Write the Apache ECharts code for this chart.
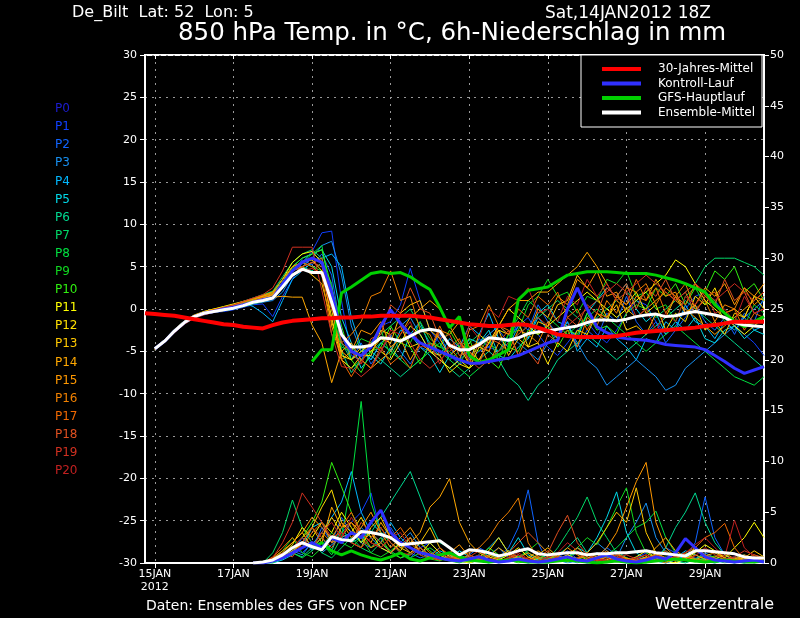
<!DOCTYPE html>
<html>
<head>
<meta charset="utf-8">
<script src="https://cdn.jsdelivr.net/npm/echarts@6/dist/echarts.min.js"></script>
<style>
  html, body { margin: 0; background: #000; }
  #chart { width: 800px; height: 618px; }
</style>
</head>
<body>
<div id="chart"></div>
<script>
// 6-hourly steps, first category = 14JAN 18Z, last = 30JAN 12Z
const dayTicks = ["15JAN", "17JAN", "19JAN", "21JAN", "23JAN", "25JAN", "27JAN", "29JAN"];
const tempTicks = [-30, 30, 5];
const precipTicks = [0, 50, 5];

const memberNames = ["P0", "P1", "P2", "P3", "P4", "P5", "P6", "P7", "P8", "P9", "P10",
  "P11", "P12", "P13", "P14", "P15", "P16", "P17", "P18", "P19", "P20"];
const memberColors = ["#1c1cd0", "#1040ff", "#1064ff", "#1890f0", "#00b8ff", "#00d8e8",
  "#00d890", "#00d868", "#00e040", "#10d820", "#30f010", "#ffff00", "#ffe000", "#ffc800",
  "#ffa800", "#ff9800", "#f08000", "#f06800", "#e05020", "#d03020", "#c02020"];

// 850 hPa temperature of members P1..P20, from 15JAN 00Z
const tempMembers = [
  [-4.8,-3.9,-2.7,-1.7,-1.0,-0.6,-0.4,-0.3,-0.1,0.2,0.5,0.6,-0.9, 1.5,3.5,5.5,6.8,9.0,9.2,1.0, -5.5,-6,-4,-2,-1.5,0.5,4.8,1,-2.5,-4, -5.5,-6.5,-6,-5,-4.5,-5,-3.5,-2,-1,-3, -4.5,-5.5,-4,-2.5,-1.5,-3,-4,-2.5,-0.5,1, 0.5,-1.5,-3,-2,0,1.5,2,1,-0.5,-2, -3,-4,-5.5],
  [-4.6,-3.7,-2.5,-1.5,-0.8,-0.4,-0.2,0,0.3,0.6,1.0,1.3,1.6, 2.8,4.5,5.8,5.2,6.5,4.0,-3.0, -6,-4,-6.5,-5,-3,-5,-6.5,-4.5,-5,-3, -5.5,-4,-6,-3.5,-4.5,-2.5,-4,-1.5,-2.5,0.5, -1.5,-3,-1.5,-4.5,-2.5,-3.5,-0.5,-1.5,1.5,-1.5, -3,-1.5,-4,-2.5,-1,0.5,-1.5,-2.5,-1,-3, -0.5,-1.5,1.5],
  [-4.7,-3.8,-2.7,-1.7,-1.0,-0.6,-0.4,-0.2,0,0.3,0.6,0.8,1.0, 2.0,4.0,5.0,6.0,7.5,8.0,4.0, -2,-5,-6,-4,-3,-2,-1,-3,-5,-6, -7,-6,-5,-4,-3,-2,-3,-4,-5,-6, -4,-3,-2,-4,-6,-7,-9,-8,-7,-6, -7,-8,-9.6,-9,-7,-6,-5,-4,-3,-2, -1,0,1],
  [-4.6,-3.6,-2.4,-1.4,-0.8,-0.4,-0.2,0.1,0.4,0.7,0.3,-0.5,-1.5, 1.0,3.5,4.5,5.5,6.0,6.5,5.0, -1,-4.5,-6,-4,-5,-2.5,-3,-1.5,-4.5,-5.5, -3.5,-4.5,-2,-3,-0.5,-3.5,-4.5,-2,-3.5,-1, -2.5,-3.5,-1.5,-5,-3.5,-4.5,-2,-3.5,-4.5,-6, -3.5,-4,-1.5,-2.5,0.5,-1.5,-2,-3.5,-1.5,-2.5, -1,-2.5,-2],
  [-4.8,-3.9,-2.7,-1.7,-1.0,-0.6,-0.3,-0.1,0.2,0.5,0.9,1.2,1.8, 3.5,5.0,6.0,6.5,7.0,5.0,-1.0, -4,-7,-5.5,-6.5,-4.5,-6,-3,-4.5,-5.5,-7.5, -5.5,-6,-3.5,-4,-2.5,-5.5,-6,-4.5,-3.5,-0.5, 0.5,-1.5,-2,-3.5,-0.5,1,2.5,1.5,3,0, -1.5,-0.5,-3,-1.5,-2.5,-1,-3.5,-4,-2.5,-2, -3.5,-2.5,-3],
  [-4.7,-3.8,-2.6,-1.6,-0.9,-0.5,-0.3,-0.1,0.1,0.4,0.7,1.0,1.3, 2.5,4.0,5.0,4.5,5.5,3.0,-5.0, -7.5,-6,-5,-6,-7,-8,-7,-6,-5,-6, -7,-8,-7,-6,-5,-6,-8,-9,-10.8,-9, -8,-6,-5,-4,-3,-4,-5,-6,-5,-4, -3,-2,-1,0,1,0,-1,-2,-3,-4, -5,-6,-7],
  [-4.6,-3.7,-2.5,-1.5,-0.8,-0.4,-0.1,0.2,0.5,0.9,1.3,1.7,2.1, 3.8,5.5,6.5,7.0,6.0,2.0,-4.0, -6,-5,-4,-3,-2,-1,0,-2,-4,-5, -6,-5,-4,-3,-4,-5,-4,-3,-2,-1, 0,1,0,-1,-2,-1,0,1,2,1, 0,-1,0,1,2,3,5,6,6,6, 5.5,5,4],
  [-4.8,-3.9,-2.7,-1.7,-1.0,-0.6,-0.4,-0.2,0,0.3,0.6,0.9,1.2, 2.5,4.5,5.5,6.5,7.5,1.0,-6.0, -7,-6,-5,-4,-5,-6,-7,-6,-5,-4, -6,-7,-8,-7,-6,-5,-3,-1,1,0, -1,-2,-3,-2,-1,0,-1,-2,-3,-4, -5,-4,-3,-2,-3,-4,-5,-6,-7,-8, -8.5,-9,-8],
  [-4.7,-3.8,-2.6,-1.6,-0.8,-0.4,-0.2,0,0.2,0.5,0.9,1.1,1.4, 3.0,4.8,5.5,5.0,4.5,0.0,-4.5, -5,-3.5,-4,-2.5,-5.5,-3.5,-4,-1.5,-3.5,-4.5, -5,-6.5,-4.5,-5,-3.5,-6,-3,-2.5,0.5,1.5, 3.5,1.5,2,-0.5,1.5,1,3.5,3,4.5,1.5, 2,0,0.5,-1.5,1.5,2.5,0.5,1,-1.5,-1, -2,0.5,-0.5],
  [-4.6,-3.7,-2.5,-1.5,-0.9,-0.5,-0.3,0,0.3,0.7,1.1,1.5,1.9, 3.5,5.0,6.0,6.5,7.0,2.5,-2.0, -6,-7.5,-5,-4.5,-2,-4,-4.5,-6.5,-4,-4.5, -2.5,-4.5,-3.5,-6.5,-6,-7,-4.5,-5,-2.5,-3, -2,-4.5,-2.5,-3,-0.5,-2.5,-2,-3,-0.5,0.5, 0,2.5,1.5,3,0.5,2.5,2,4.5,3.5,5, 2,3,1],
  [-4.7,-3.7,-2.5,-1.5,-0.8,-0.3,0,0.3,0.6,0.9,1.2,1.6,2.0, 3.5,5.5,6.5,6.8,5.5,0.0,-5.5, -6,-5,-4,-5,-6,-4,-2,-3,-5,-6, -7,-6,-7,-6,-4,-2,0,-1,-2,-3, -2,-1,0,1,2,1,0,-1,0,1, 2,3,4,5.8,5,3,1,0,-1,-2, -3,-2,-1],
  [-4.8,-3.9,-2.7,-1.7,-1.0,-0.5,-0.2,0,0.3,0.6,1.0,1.4,1.7, 3.2,5.0,5.5,5.8,4.5,-1.0,-6.0, -7,-5.5,-5.5,-2.5,-3,-2,-4.5,-4,-5,-5.5, -7.5,-6.5,-7,-4.5,-5,-2.5,-3,-1.5,-4.5,-4, -6.5,-4,-5,-2.5,-3,-0.5,-1.5,1.5,0.5,2, -0.5,0.5,-2.5,-0.5,-1.5,1.5,0.5,2.5,-0.5,0, -1,1.5,0],
  [-4.6,-3.6,-2.4,-1.4,-0.7,-0.3,0,0.2,0.5,0.8,1.2,1.5,1.8, 3.0,4.5,5.0,4.0,3.0,-1.5,-5.0, -6,-4.5,-5,-3.5,-4,-0.5,0.5,1,-2.5,-3.5, -5.5,-4.5,-6.5,-3,-4,-2.5,-5.5,-3.5,-4.5,-1.5, -2,0.5,1,4,2.5,1.5,-1,0.5,-2.5,-2, -3,-0.5,-1,1.5,-0.5,0.5,-2.5,-1.5,-3,-0.5, -1,1.5,1],
  [-4.7,-3.8,-2.6,-1.6,-0.9,-0.5,-0.3,-0.1,0.2,0.5,0.8,1.1,1.4, 1.5,1.4,1.4,-1.9,-4.0,-8.7,-5.0, -4,-6,-7,-6,-5,-3,-1,0,1,0, -2,-4,-5,-6,-4,-2,0,1,1,2, 2,3,4,5,6.7,5,3,1,0,-1, 0,1,2,1,0,-1,-2,-3,-2,-1, 0,1,2],
  [-4.8,-3.9,-2.7,-1.7,-1.0,-0.6,-0.3,0,0.3,0.6,0.9,1.3,1.6, 3.0,4.5,5.5,6.0,5.5,-2.0,-6.0, -5,-2.5,-3,-1.5,-4.5,-3.5,-6,-4,-5,-2.5, -3,-1.5,-4.5,-4,-6.5,-4,-5,-2.5,-3,0, -1,1.5,0.5,3.5,2.5,4.5,1.5,2,-0.5,1.5, 1,3.5,1.5,2,-0.5,0.5,2.5,1.5,3,0.5, 2.5,1.5,3],
  [-4.7,-3.7,-2.5,-1.5,-0.8,-0.4,-0.1,0.1,0.4,0.8,1.2,1.6,2.0, 3.5,5.0,5.5,5.0,4.0,-3.0,-4.0, -3,-1.5,1.5,2,4.5,1,1.5,-2.5,-3,-5.5, -4.5,-6,-2.5,-2,0.5,-2,-2.5,-5.5,-3,-4, -1.5,-3.5,-2.5,-4.5,-1,-2,1,-0.5,2.5,2, 3,0.5,2.5,1.5,3,0,1,-1.5,0.5,0, 2.5,0.5,1.5],
  [-4.6,-3.7,-2.6,-1.6,-0.9,-0.5,-0.2,0,0.3,0.6,1.0,1.4,1.8, 3.0,4.0,5.0,5.5,6.0,0.5,-6.0, -8,-6,-7,-4.5,-6.5,-5.5,-7,-4,-5,-2, -4.5,-3.5,-6.5,-4,-5,-2,-3,0,-1,1.5, 0.5,2,-1,0,-2.5,-0.5,-1,1.5,0.5,3.5, 1,2.5,-0.5,1.5,0.5,3,1.5,2,-0.5,0, -2.5,-0.5,-1],
  [-4.8,-3.9,-2.8,-1.8,-1.1,-0.7,-0.4,-0.2,0.1,0.4,0.8,1.1,1.4, 3.0,4.5,5.0,5.5,5.0,1.5,-4.0, -5,-6.5,-3.5,-3,0.5,-0.5,2.5,0,-0.5,-3.5, -3,-5.5,-5,-6.5,-3.5,-4,-2.5,-5.5,-5,-6.5, -3,-4,-1,-2,0.5,-0.5,2.5,1.5,3,0, 2.5,1.5,3.5,1,2,-0.5,1.5,0.5,3.5,1, 2,-0.5,0],
  [-4.7,-3.8,-2.6,-1.6,-0.9,-0.4,-0.1,0.2,0.5,0.9,1.3,1.7,2.5, 4.5,7.3,7.3,7.3,2.2,-3.0,-6.8, -7,-8,-7,-5,-3,-2,-4,-6,-7,-6, -5,-4,-6,-7,-6,-5,-4,-3,-2,-1, -2,-3,-2,-1,0,1,2,3,2,3, 4,3,2,1,2,3,2,1,2,3, 2,1,2],
  [-4.7,-3.8,-2.7,-1.7,-1.0,-0.6,-0.3,-0.1,0.2,0.5,0.8,1.1,1.3, 2.5,4.0,4.5,4.8,4.0,0.0,-3.0, -5,-6.5,-4,-5,-2.5,-3,-1.5,-4.5,-4,-6.5, -4,-5,-2,-3.5,0,-1,1.5,1,2.5,-0.5, 0,-1.5,1.5,0.5,3.5,1.5,3,1,2,-1, 0,-2.5,-0.5,-1.5,1.5,0.5,2,-0.5,0,-1.5, 1.5,-0.5,0]
];

// 6h precipitation of members P1..P20, from 17JAN 12Z
const precipMembers = [
  [0,0,0.3,0.8,1.5,1.0,2.0,1.5,2.5,3.0, 4.0,5.0,6.9,3.0,2.0,1.0,0.5,1.5,2.0,1.0, 0.5,0.2,0,0.3,1.0,0.5,0.2,0.8,0.3,0, 0,0.5,1.2,0.4,0,0.2,0.6,0.3,0,0.5, 1.0,0.4,0,0.3,0.8,0.5,0.2,0,0.4,0.6, 0.3,0,0.2],
  [0,0,0.2,0.5,1.0,2.5,1.2,3.5,2.0,4.5, 3.0,2.0,1.5,2.5,3.5,2.0,1.0,0.5,0.8,1.5, 0.6,0.2,0.8,1.5,1.0,0.5,1.5,3.5,7.2,2.0, 0,0.4,0.8,0.2,0,0.6,1.5,0.8,0.3,0, 0.2,0.5,1.5,1.0,0.5,2.0,6.5,2.5,0.8,0.2, 0,0.3,0.5],
  [0,0,0,0.4,1.2,0.8,2.0,1.0,1.8,2.5, 2.0,3.5,2.5,1.5,1.0,2.0,3.0,1.5,0.5,0.8, 0.3,0,0.5,0.2,0.8,1.5,0.5,0.2,0,0.4, 0.8,0.3,0,0.2,1.0,2.0,1.2,0.5,2.5,4.0, 5.9,2.5,1.0,0.3,0,0.4,1.0,0.5,0.2,0, 0.3,0.6,0.2],
  [0,0,0.2,0.6,1.5,2.5,1.8,3.0,4.5,6.0, 9.0,5.0,3.0,2.0,4.0,2.5,1.5,1.0,0.5,1.2, 0.8,0.3,0.1,0.5,1.5,2.5,1.0,0.3,0,0.2, 0.5,0.8,0.3,0,0.4,1.0,0.6,0.2,0,0.3, 0.6,0.2,0,0.5,1.2,0.8,0.3,0.1,0.4,0.2, 0,0.3,0.5],
  [0,0,0,0.3,0.8,1.5,3.5,4.0,2.0,2.5, 3.0,2.0,4.0,3.0,2.5,1.5,2.5,1.0,0.6,0.3, 0.5,1.2,0.6,0.2,0,0.4,1.0,2.5,0.8,0.3, 0,0.2,0.5,1.5,1.0,2.5,4.5,7.0,3.0,1.0, 0.4,0.2,0,0.3,0.7,0.4,0.1,0,0.2,0.5, 0.8,0.3,0.2],
  [0,0,0.3,0.5,1.0,0.6,1.5,2.5,1.2,3.5, 2.0,2.5,3.0,4.5,6.0,7.5,9.0,6.5,4.0,2.0, 1.5,0.8,0.4,0.2,0,0.5,1.2,0.6,0.3,0.1, 0.4,0.8,1.5,2.5,1.0,0.3,0.6,1.2,0.5,0.2, 0,0.4,1.5,3.5,5.0,6.9,4.0,2.0,0.8,0.3, 0.1,0.4,0.6],
  [0,0,1.0,3.0,6.2,3.5,2.0,1.0,0.5,1.5, 2.5,1.5,1.0,2.0,1.2,0.5,0.8,1.5,0.6,0.3, 0.5,0.2,0,0.3,0.8,0.4,0.2,0.6,1.0,0.5, 0.3,1.5,3.0,4.5,6.5,4.0,2.5,1.0,0.4,0.2, 0,0.3,0.6,0.2,0,0.4,0.8,0.5,0.2,0, 0.3,0.6,0.4],
  [0,0,0.2,0.4,1.0,0.5,1.2,2.0,0.8,2.5, 8.0,15.9,6.0,3.0,2.0,1.0,0.5,1.0,1.5,0.8, 0.3,0.1,0.4,0.8,0.3,0,0.2,0.5,0.3,0.1, 0,0.3,0.6,1.0,0.4,0.2,0.8,1.5,2.5,3.5, 4.0,5.1,2.5,1.0,0.4,0.2,0.5,0.3,0,0.2, 0.5,0.3,0.1],
  [0,0,0.4,1.2,2.5,1.0,0.6,1.5,3.0,2.0, 1.5,2.5,1.0,0.6,1.2,2.0,1.5,0.8,0.4,0.2, 0.6,0.3,0.1,0.5,1.0,0.4,0.2,0.6,1.2,2.0, 1.0,0.5,0.3,1.5,2.5,1.8,3.5,5.5,7.4,3.0, 1.0,0.5,0.2,0.6,1.0,0.4,0.2,0,0.3,0.5, 0.8,0.4,0.2],
  [0,0,0,0.5,1.5,2.5,4.0,6.0,9.9,7.5, 5.0,3.0,1.5,2.5,1.0,0.5,1.0,2.0,1.2,0.4, 0.2,0,0.3,0.6,1.5,0.8,0.3,0,0.2,0.5, 0.8,0.3,0.1,0.4,0.6,0.2,0,0.3,0.5,0.2, 0.4,0.8,1.2,0.6,0.3,0.1,0.4,0.7,0.3,0, 0.2,0.5,0.3],
  [0,0,0.3,0.7,1.8,3.5,2.5,4.0,3.0,5.0, 3.5,2.0,3.0,1.5,1.0,2.0,1.5,0.8,2.0,1.0, 0.4,0.2,0,0.3,0.6,0.3,0.8,1.5,0.6,0.2, 0,0.3,0.8,0.4,0.2,0.6,1.0,0.4,0.2,0.6, 1.2,0.5,0.2,0,0.4,1.0,1.8,1.2,0.5,1.5, 2.5,4.0,2.5],
  [0,0,0.2,0.6,1.2,2.0,3.5,5.5,7.2,4.0, 3.0,4.5,2.5,3.5,2.0,1.2,2.5,1.0,0.6,0.3, 0.8,0.4,0.2,0.6,1.2,2.5,1.0,0.4,0.2,0, 0.3,0.6,0.2,0.5,1.0,0.6,0.3,0.8,0.4,0.2, 0.5,0.9,0.4,0.2,0.6,1.5,0.8,0.3,0.1,0.4, 0.7,0.3,0.1],
  [0,0,0.4,1.0,2.0,3.0,1.5,2.5,4.5,3.0, 2.0,1.5,3.5,4.5,2.5,1.5,1.0,2.0,3.5,1.5, 0.6,0.3,0.8,0.4,0.1,0.6,1.2,0.5,0.3,0.8, 1.5,0.6,0.2,0.4,1.0,2.0,3.5,5.0,4.0,7.4, 3.0,1.0,0.5,0.2,0.6,0.3,0,0.4,0.8,0.3, 0.5,1.2,0.6],
  [0,0,0.2,0.8,1.5,2.5,3.5,2.0,5.5,3.5, 4.0,3.0,2.0,4.0,2.5,1.5,2.0,3.0,5.5,6.5, 8.3,4.0,2.0,1.0,0.6,1.5,0.8,0.3,0.5,1.2, 0.6,0.3,0.8,1.5,0.6,0.2,0.4,0.8,0.5,0.2, 0.6,1.5,2.5,1.2,0.6,0.3,0.7,1.0,0.5,0.2, 0.4,0.8,0.5],
  [0,0,0.5,1.2,2.0,3.0,4.5,3.5,2.5,4.0, 2.5,3.5,5.0,3.0,1.5,2.5,3.5,2.0,1.0,0.5, 1.0,1.8,0.6,0.3,0.8,0.4,0.2,0.5,1.0,0.4, 0.2,0.6,1.5,0.8,0.3,0.6,1.5,3.0,5.5,8.0, 9.9,4.0,1.5,0.6,0.3,0.8,0.4,0.2,0.5,0.3, 0.6,0.2,0.4],
  [0,0,0.3,0.6,1.0,2.0,1.5,3.0,2.0,2.5, 4.0,2.5,1.5,2.0,3.0,2.0,1.0,1.5,0.8,0.4, 0.3,0.8,1.0,1.5,2.5,4.0,5.0,6.4,2.0,0.5, 0.5,0.8,0.3,0.1,0.4,0.6,1.2,0.5,0.2,0.4, 0.8,0.3,0,0.5,0.9,0.4,0.2,0.6,1.0,0.4, 0.2,0.6,0.3],
  [0,0,0.6,1.5,2.5,1.5,3.0,4.0,2.0,3.5, 5.0,3.0,2.0,1.5,2.5,3.5,2.0,1.0,0.6,1.5, 0.8,0.4,0.2,0.6,0.3,0.1,0.5,0.8,0.3,0.6, 1.2,0.5,0.2,0.4,0.8,0.3,0.6,1.0,0.4,0.2, 0.5,0.8,0.4,0.6,1.0,1.5,2.5,3.0,3.9,1.5, 0.4,0.2,0.6],
  [0,0,0.4,1.0,0.6,2.0,3.5,2.5,1.5,3.0, 2.0,4.0,3.0,2.0,1.0,1.8,2.5,1.2,0.5,0.3, 0.6,0.3,0.8,0.4,0.2,0.5,1.0,2.0,3.0,2.0, 1.0,3.0,4.7,2.0,0.8,0.4,0.2,0.6,0.3,0.1, 0.4,0.8,0.5,0.2,0.6,1.2,0.8,0.4,0.2,0.5, 0.8,0.4,0.2],
  [0,0,0.5,2.0,4.0,6.9,5.5,4.0,2.5,3.0, 2.0,1.5,2.5,3.5,2.0,1.0,0.8,1.5,0.6,0.3, 0.5,0.2,0.6,1.2,0.5,0.2,0.4,0.8,0.3,0.1, 0.3,0.6,0.2,0.5,1.0,0.4,0.2,0.5,0.8,0.4, 0.2,0.6,1.2,0.5,0.3,0.7,1.5,0.8,0.4,0.6, 1.2,0.8,0.4],
  [0,0,0.3,0.8,1.5,2.5,1.5,3.0,4.0,2.5, 4.5,3.0,2.0,1.5,2.5,3.0,1.5,0.8,0.4,1.0, 0.5,0.2,0.4,0.8,0.3,0.1,0.6,1.0,0.4,0.2, 0.5,1.0,2.0,1.2,0.5,0.2,0.4,0.8,0.3,0.5, 0.8,0.4,0.2,0.6,1.0,1.8,2.5,1.5,0.6,4.2, 1.5,0.6,0.3]
];

// control run (P0), from 15JAN 00Z / precip from 17JAN 12Z
const controlTemp = [-4.7,-3.8,-2.6,-1.6,-0.9,-0.5,-0.3,0,0.2,0.5,0.8,1.1,1.3, 3.0,4.5,5.5,6.0,5.5,2.0,-3.0, -5,-5.5,-4.5,-2,-0.1,-1.7,-3,-4,-4.5,-5, -5.5,-6,-6.4,-6.4,-6.2,-6,-5.8,-5.5,-5,-4.5, -4,-3.7,0,2.5,0,-2.1,-2.8,-3.3,-3.5,-3.6, -3.7,-3.9,-4.2,-4.3,-4.4,-4.5,-4.8,-5.5,-6.2,-7, -7.6,-7.2,-6.8];
const controlPrecip = [0,0,0.2,0.5,1.0,1.5,2.0,1.5,2.5,2.0, 3.0,2.5,4.0,5.2,3.0,2.0,1.5,1.0,0.8,0.5, 0.3,0.2,0.4,0.6,0.3,0.1,0.2,0.4,0.2,0.1, 0.2,0.4,0.6,0.3,0.2,0.5,0.8,0.4,0.2,0.1, 0.3,0.6,0.4,1.0,2.4,1.5,0.6,0.3,0.2,0.1, 0.2,0.3,0.1];

// GFS operational run, from 19JAN 00Z
const gfsTemp = [-6.2,-4.8,-4.8,1.9, 2.6,3.4,4.2,4.4,4.2,4.3,3.8,3.0,2.3,0.2, -2.2,-0.9,-5.5,-6.3,-6.0,-5.4,-4.8,1.1,2.2,2.4, 2.6,3.3,4.0,4.2,4.4,4.4,4.4,4.3,4.2,4.2, 4.2,4.0,3.7,3.4,3.0,2.5,2.0,0.5,-0.5,-1.5, -2.1,-1.5,-0.9];
const gfsPrecip = [1.5,2.0,1.2,0.8, 1.2,0.8,0.5,0.3,0.6,1.0,0.4,0.2,0.5,0.8, 1.0,0.6,0.3,0.2,0.1,0.2,0.3,0.2,0.1,0.1, 0.1,0.2,0.3,0.2,0.1,0,0.1,0.2,0.1,0, 0.1,0.2,0.3,0.4,0.3,0.2,0.1,0.2,0.3,0.2, 0.1,0.1,0.2];

// ensemble mean, from 15JAN 00Z / precip from 17JAN 12Z
const meanTemp = [-4.7,-3.8,-2.6,-1.6,-0.9,-0.5,-0.3,-0.1,0.1,0.4,0.8,1.0,1.3, 2.6,4.0,4.7,4.3,4.3,0.8,-3.0, -4.5,-4.5,-4.3,-3.4,-3.5,-3.8,-3.2,-2.6,-2.4,-2.6, -4.3,-4.8,-4.8,-4.2,-3.4,-3.5,-3.7,-3.4,-2.9,-2.7, -2.6,-2.4,-2.2,-2.0,-1.6,-1.3,-1.3,-1.4,-1.2,-0.9, -0.7,-0.6,-0.9,-0.8,-0.5,-0.3,-0.5,-0.7,-1.0,-1.6, -1.9,-2.0,-2.1];
const meanPrecip = [0,0.1,0.3,0.8,1.5,2.0,1.6,1.3,2.6,2.3, 2.2,3.1,3.0,2.8,2.5,1.8,1.9,2.0,2.1,2.2, 1.5,0.8,1.3,1.2,1.0,0.7,0.9,1.2,1.4,0.9, 0.8,0.9,1.0,1.0,0.8,0.9,0.9,1.0,1.0,1.1, 1.2,1.0,0.9,0.8,0.7,1.2,1.2,1.1,1.0,0.9, 0.6,0.5,0.5];

// 30-year mean, from 14JAN 18Z
const climTemp = [-0.5,-0.6,-0.7,-0.8,-1.0,-1.2,-1.4,-1.6,-1.8,-1.9,-2.1,-2.2,-2.3,-1.9,-1.6,-1.4,-1.3,-1.2,-1.1,-1.1,-1.0,-1.0,-0.9,-0.9,-0.8,-0.8,-0.8,-0.8,-0.9,-1.0,-1.2,-1.4,-1.6,-1.8,-1.9,-2.0,-2.0,-1.9,-1.8,-1.9,-2.2,-2.6,-3.0,-3.2,-3.3,-3.3,-3.3,-3.3,-3.2,-3.0,-2.8,-2.7,-2.6,-2.5,-2.4,-2.3,-2.2,-2.0,-1.9,-1.7,-1.5,-1.5,-1.5,-1.5];

const FONT = "DejaVu Sans";

const timeLabels = [];
for (let k = 0; k < 64; k++) {
  const h = 18 + 6 * k;
  const d = 14 + Math.floor(h / 24);
  timeLabels.push(d + "JAN " + String(h % 24).padStart(2, "0") + "Z");
}
const isDayTick = (idx, val) => val.endsWith(" 00Z") && dayTicks.includes(val.slice(0, 5));
const pad = (n, arr) => new Array(n).fill(null).concat(arr);

function line(name, data, color, width, axis, z) {
  return {
    name, type: "line", data, yAxisIndex: axis, z: z || 2,
    showSymbol: false, symbol: "none", silent: true,
    lineStyle: { color, width },
    itemStyle: { color },
  };
}

const series = [];
precipMembers.forEach((vals, k) => {
  series.push(line(memberNames[k + 1], pad(11, vals), memberColors[k + 1], 1, 1));
});
tempMembers.forEach((vals, k) => {
  series.push(line(memberNames[k + 1], pad(1, vals), memberColors[k + 1], 1, 0));
});
series.push(line("GFS-Hauptlauf", pad(17, gfsPrecip), "#00d000", 3, 1, 3));
series.push(line("GFS-Hauptlauf", pad(17, gfsTemp), "#00d000", 3, 0, 3));
series.push(line("Kontroll-Lauf", pad(11, controlPrecip), "#3030ff", 3, 1, 3));
series.push(line("Kontroll-Lauf", pad(1, controlTemp), "#3030ff", 3, 0, 3));
series.push(line("Ensemble-Mittel", pad(11, meanPrecip), "#ffffff", 3, 1, 4));
series.push(line("Ensemble-Mittel", pad(1, meanTemp), "#ffffff", 3, 0, 4));
series.push(line("30-Jahres-Mittel", climTemp, "#ff0000", 4, 0, 5));

const textStyle = (size) => ({ fill: "#fff", fontSize: size, fontFamily: FONT });
const graphic = [
  { type: "text", left: 72, top: 5, style: { text: "De_Bilt  Lat: 52  Lon: 5", ...textStyle(16) } },
  { type: "text", left: 545, top: 5, style: { text: "Sat,14JAN2012 18Z", ...textStyle(17) } },
  { type: "text", left: 178, top: 21, style: { text: "850 hPa Temp. in °C, 6h-Niederschlag in mm", ...textStyle(24.5) } },
  { type: "text", left: 146, top: 599, style: { text: "Daten: Ensembles des GFS von NCEP", ...textStyle(14) } },
  { type: "text", left: 655, top: 597, style: { text: "Wetterzentrale", ...textStyle(16) } },
];
memberNames.forEach((name, k) => {
  graphic.push({
    type: "text", left: 55, top: 103 + k * 18.1,
    style: { text: name, fill: memberColors[k], fontSize: 12, fontFamily: FONT },
  });
});

// legend box, drawn by hand so the samples sit like the original
const legendItems = [["30-Jahres-Mittel", "#ff0000"], ["Kontroll-Lauf", "#3030ff"],
  ["GFS-Hauptlauf", "#00d000"], ["Ensemble-Mittel", "#ffffff"]];
graphic.push({
  type: "rect", z: 100, shape: { x: 581, y: 55, width: 181, height: 72 },
  style: { fill: "#000", stroke: "#fff", lineWidth: 1 },
});
legendItems.forEach(([label, color], k) => {
  const y = 69 + k * 14.5;
  graphic.push({ type: "line", z: 101, shape: { x1: 602, y1: y, x2: 641, y2: y }, style: { stroke: color, lineWidth: 4 } });
  graphic.push({
    type: "text", z: 101, x: 658, y: y,
    style: { text: label, fill: "#fff", fontSize: 12, fontFamily: FONT, verticalAlign: "middle" },
  });
});

const chart = echarts.init(document.getElementById("chart"));
chart.setOption({
  backgroundColor: "#000",
  animation: false,
  grid: { left: 145, right: 36, top: 55, bottom: 55, show: true, borderColor: "#fff", borderWidth: 2, backgroundColor: "transparent" },
  xAxis: [
    {
      type: "category", data: timeLabels, boundaryGap: false,
      axisLine: { onZero: false, lineStyle: { color: "#fff", width: 2 } },
      axisTick: { interval: isDayTick, length: 5, lineStyle: { color: "#fff" } },
      axisLabel: {
        interval: isDayTick, color: "#fff", fontSize: 11, fontFamily: FONT, margin: 5, lineHeight: 13,
        formatter: (v) => v.slice(0, 5) + (v.startsWith("15JAN") ? "\n2012" : ""),
      },
      splitLine: { show: true, interval: isDayTick, lineStyle: { color: "#999", type: [2, 5], width: 1 } },
    },
    {
      type: "category", data: timeLabels, boundaryGap: false, position: "top",
      axisLine: { show: false, onZero: false },
      axisTick: { interval: isDayTick, inside: true, length: 4, lineStyle: { color: "#fff" } },
      axisLabel: { show: false },
      splitLine: { show: false },
    },
  ],
  yAxis: [
    {
      type: "value", position: "left", min: tempTicks[0], max: tempTicks[1], interval: tempTicks[2],
      axisLine: { show: true, lineStyle: { color: "#fff", width: 2 } },
      axisTick: { show: true, length: 5, lineStyle: { color: "#fff" } },
      axisLabel: { color: "#fff", fontSize: 11, fontFamily: FONT, margin: 8 },
      splitLine: { show: true, lineStyle: { color: "#999", type: [2, 5], width: 1 } },
    },
    {
      type: "value", position: "right", min: precipTicks[0], max: precipTicks[1], interval: precipTicks[2],
      axisLine: { show: true, lineStyle: { color: "#fff", width: 2 } },
      axisTick: { show: true, length: 5, lineStyle: { color: "#fff" } },
      axisLabel: { color: "#fff", fontSize: 11, fontFamily: FONT, margin: 6 },
      splitLine: { show: false },
    },
  ],
  graphic,
  series,
});
</script>
</body>
</html>
